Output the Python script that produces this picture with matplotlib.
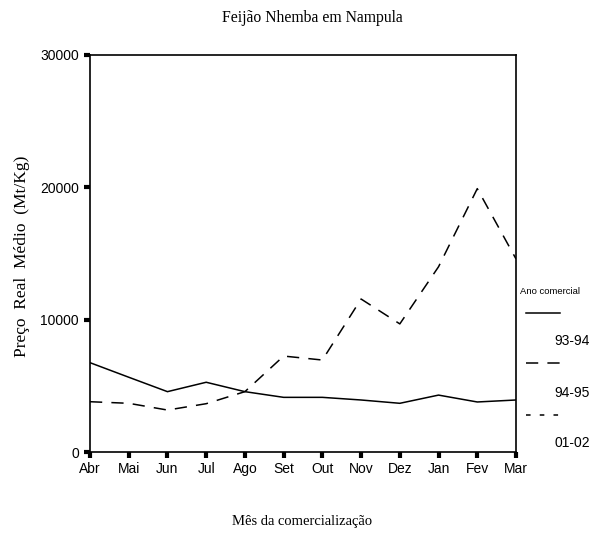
import numpy as np
import matplotlib
matplotlib.use("Agg")
import matplotlib.pyplot as plt
from matplotlib.lines import Line2D

# months of the marketing year
meses = ["Abr", "Mai", "Jun", "Jul", "Ago", "Set", "Out", "Nov", "Dez", "Jan", "Fev", "Mar"]

# real average price (Mt/Kg)
preco_93_94 = [6750, 5650, 4560, 5270, 4560, 4130, 4130, 3930, 3680, 4300, 3780, 3930]
preco_94_95 = [3800, 3680, 3170, 3650, 4560, 7250, 6950, 11560, 9680, 14000, 19900, 14590]
preco_01_02 = [None] * 12   # in the legend, but nothing drawn

series_labels = ["93-94", "94-95", "01-02"]
yticks = [0, 10000, 20000, 30000]

serif = "Liberation Serif"
sans = "Liberation Sans"

fig = plt.figure(figsize=(5.94, 5.33), dpi=100)
ax = fig.add_axes([90 / 594, 1 - 452 / 533, (516 - 90) / 594, (452 - 55) / 533])

x = np.arange(len(meses))
ax.plot(x, preco_93_94, color="black", lw=1.1, solid_joinstyle="miter")
ax.plot(x, preco_94_95, color="black", lw=1.1, dashes=(8, 6))
ax.plot(x, np.array(preco_01_02, dtype=float), color="black", lw=1.1, dashes=(3, 6))

ax.set_xlim(0, len(meses) - 1)
ax.set_ylim(0, 30000)
ax.set_xticks(x)
ax.set_xticklabels(meses, fontfamily=sans, fontsize=10)
ax.set_yticks(yticks)
ax.set_yticklabels([str(v) for v in yticks], fontfamily=sans, fontsize=10)
ax.tick_params(axis="both", direction="out", length=4, width=3, color="black", pad=3)
ax.tick_params(axis="y", pad=4)
for sp in ax.spines.values():
    sp.set_linewidth(1.2)

fig.text(312 / 594, 1 - 18 / 533, "Feijão Nhemba em Nampula", ha="center", va="center",
         fontfamily=serif, fontsize=11.3)
fig.text(302 / 594, 1 - 521 / 533, "Mês da comercialização", ha="center", va="center",
         fontfamily=serif, fontsize=10.5)
fig.text(22 / 594, 1 - 256 / 533, "Preço  Real  Médio  (Mt/Kg)", ha="center", va="center",
         rotation=90, fontfamily=serif, fontsize=12.5)

# legend, drawn by hand to copy the stacked layout
fig.text(520 / 594, 1 - 291 / 533, "Ano comercial", ha="left", va="center",
         fontfamily=sans, fontsize=6.8)
styles = [dict(), dict(dashes=(8, 6)), dict(dashes=(3, 6))]
line_y = [313, 363, 415]
label_y = [341, 393, 443]
for lab, st, ly, ty in zip(series_labels, styles, line_y, label_y):
    fig.add_artist(Line2D([526 / 594, 560 / 594], [1 - ly / 533, 1 - ly / 533],
                          transform=fig.transFigure, color="black", lw=1.1, **st))
    fig.text(590 / 594, 1 - ty / 533, lab, ha="right", va="center",
             fontfamily=sans, fontsize=10)

fig.savefig("out.png", dpi=100)
